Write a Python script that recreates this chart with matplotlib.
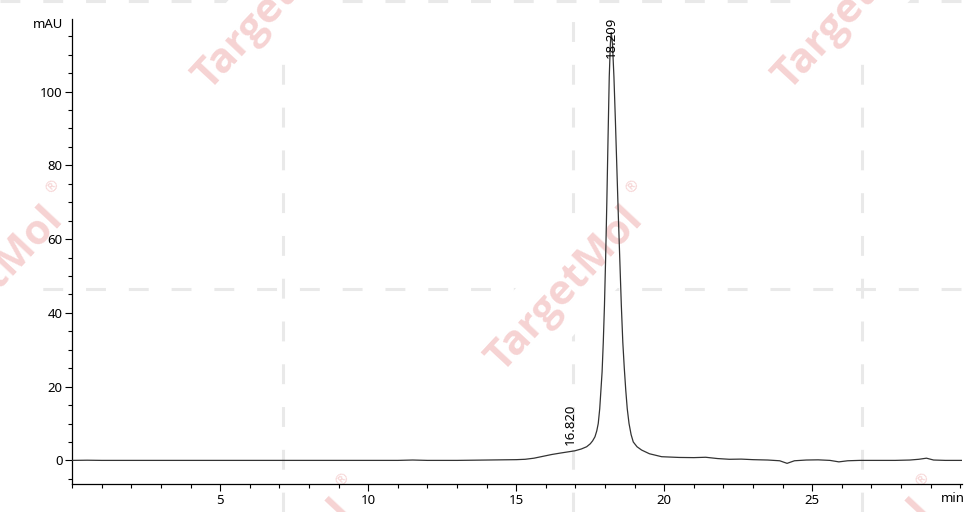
import matplotlib
matplotlib.use("Agg")
import matplotlib.pyplot as plt
from matplotlib.lines import Line2D
from matplotlib.ticker import MultipleLocator

plt.rcParams['font.family'] = ['Noto Sans', 'DejaVu Sans']

# Chromatogram data (time in min, absorbance in mAU)
time_min = [0.0, 0.5, 1.0, 2.0, 3.0, 4.0, 5.0, 6.0, 7.0, 8.0, 9.0, 10.0, 11.0, 11.5, 12.0,
            13.0, 14.0, 14.5, 15.0, 15.3, 15.6, 15.9, 16.2, 16.5, 16.82, 16.98, 17.2, 17.378,
            17.5, 17.58, 17.659, 17.72, 17.77, 17.82, 17.861, 17.9, 17.94, 17.98, 18.02,
            18.06, 18.1, 18.142, 18.18, 18.209, 18.25, 18.3, 18.35, 18.4, 18.45, 18.5,
            18.55, 18.6, 18.65, 18.7, 18.75, 18.81, 18.88, 18.953,
            19.08, 19.236, 19.5, 19.912, 20.5, 21.0, 21.4, 21.8, 22.2, 22.6, 23.0, 23.5,
            23.9, 24.15, 24.4, 24.8, 25.2, 25.6, 25.9, 26.2, 26.6, 27.2, 27.8, 28.3, 28.6,
            28.86, 29.1, 29.5, 30.05]
signal_mau = [0.0, 0.05, 0.0, 0.0, 0.0, 0.0, 0.0, 0.0, 0.0, 0.0, 0.0, 0.0, 0.0, 0.1, 0.0,
              0.0, 0.1, 0.15, 0.2, 0.3, 0.6, 1.1, 1.6, 2.0, 2.4, 2.6, 3.1, 3.7,
              4.5, 5.3, 6.4, 8.0, 10.0, 14.0, 19.1, 24.0, 32.0, 42.0, 55.0,
              70.0, 87.0, 104.0, 113.0, 116.0, 113.0, 104.0, 92.0, 79.0, 66.0, 54.0,
              42.0, 32.0, 25.0, 19.0, 14.0, 10.0, 7.0, 5.0,
              3.7, 2.8, 1.8, 1.0, 0.8, 0.75, 0.85, 0.5, 0.3, 0.35, 0.2, 0.1,
              -0.1, -0.8, -0.1, 0.1, 0.15, 0.0, -0.4, -0.1, 0.0, 0.0, 0.0, 0.1, 0.3,
              0.6, 0.1, 0.0, 0.0]

peak_times = [16.820, 18.209]
peak_labels = ["16.820", "18.209"]
peak_label_y = [4.3, 109.0]

x_major = [5, 10, 15, 20, 25]
y_major = [0, 20, 40, 60, 80, 100]

fig = plt.figure(figsize=(9.68, 5.12), dpi=100)

# watermark background (dashed grid + rotated brand text)
W, H = 968.0, 512.0
grid_kw = dict(color='#e9e9e9', lw=2.2, dashes=(6.5, 7.5), zorder=0)
for xv in [283, 573, 862]:
    fig.add_artist(Line2D([xv / W, xv / W], [0, 1], transform=fig.transFigure, **grid_kw))
for yv in [1, 289]:
    fig.add_artist(Line2D([0, 1], [1 - yv / H, 1 - yv / H], transform=fig.transFigure, **grid_kw))
for cx, cy in [(272, 8), (852, 8), (-15, 290), (565, 290), (275, 583), (855, 583)]:
    fig.text(cx / W, 1 - cy / H, "TargetMol", rotation=47, ha='center', va='center',
             fontsize=30, fontweight='bold', family=['Open Sans', 'DejaVu Sans'],
             color='#f6d3d3', zorder=1, rotation_mode='anchor',
             bbox=dict(facecolor='white', edgecolor='none', pad=12))
    fig.text((cx + 68) / W, 1 - (cy - 102) / H, "®", rotation=45, ha='center', va='center',
             fontsize=11, color='#f6d3d3', zorder=1, rotation_mode='anchor')

ax = fig.add_axes([72.3 / W, 1 - 484 / H, (961.7 - 72.3) / W, (484 - 19.3) / H])
ax.set_zorder(2)
ax.patch.set_visible(False)
ax.plot(time_min, signal_mau, color='#333333', lw=0.9, zorder=3)

for t, lab, ly in zip(peak_times, peak_labels, peak_label_y):
    ax.text(t, ly, lab, rotation=90, ha='center', va='bottom', fontsize=9.5, color='black',
            zorder=4)

ax.set_xlim(0, 30.05)
ax.set_ylim(-6.4, 119.6)
ax.spines['top'].set_visible(False)
ax.spines['right'].set_visible(False)
ax.spines['left'].set_linewidth(0.9)
ax.spines['bottom'].set_linewidth(0.9)

ax.set_xticks(x_major)
ax.set_xticklabels([str(v) for v in x_major])
ax.xaxis.set_minor_locator(MultipleLocator(1))
ax.set_yticks(y_major)
ax.set_yticklabels([str(v) for v in y_major])
ax.yaxis.set_minor_locator(MultipleLocator(5))
ax.tick_params(axis='both', which='major', length=5, width=0.8, direction='out',
               labelsize=9.5, pad=2)
ax.tick_params(axis='both', which='minor', length=2.8, width=0.8, direction='out')

fig.text(63 / W, 1 - 25 / H, "mAU", ha='right', va='center', fontsize=9.5, zorder=3)
fig.text(965 / W, 1 - 499 / H, "min", ha='right', va='center', fontsize=9.5, zorder=3)

fig.savefig("out.png", dpi=100)
